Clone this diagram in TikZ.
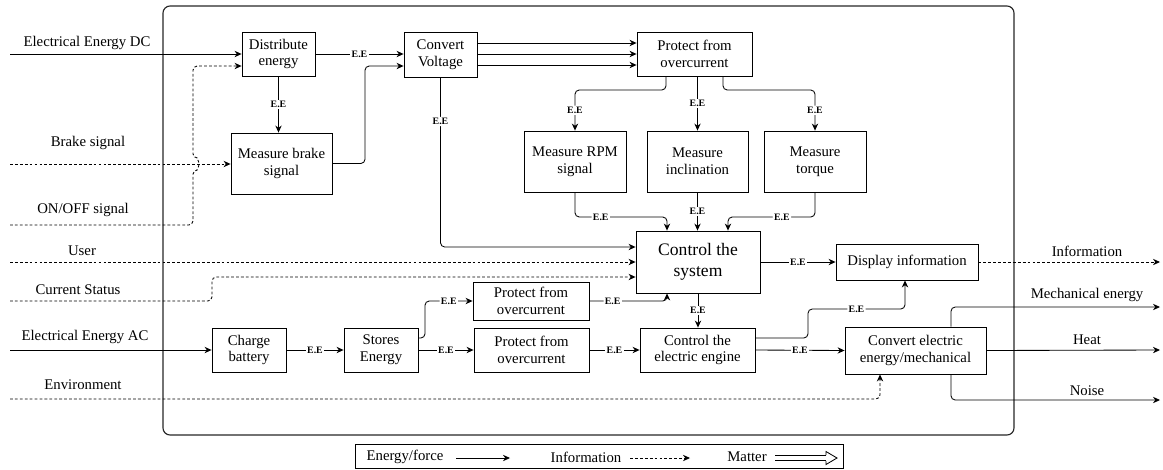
\documentclass[tikz,border=0pt]{standalone}
\usepackage{fontspec}
\setmainfont{Liberation Serif}
\usetikzlibrary{arrows.meta}
\tikzset{
  >={Stealth[length=5pt,width=4.5pt]},
  every node/.style={font=\fontsize{10.5}{12}\selectfont},
  blk/.style={draw, line width=0.6pt, align=center, inner sep=0pt},
  sz/.style 2 args={minimum width=#1*0.025cm, minimum height=#2*0.025cm},
  ee/.style={font=\fontsize{7}{8}\selectfont\bfseries, fill=white, inner sep=1pt},
  info/.style={->, dash pattern=on 2pt off 1.5pt},
}
\begin{document}
\begin{tikzpicture}[x=0.025cm, y=-0.025cm, line width=0.6pt]
  \useasboundingbox (0,0) rectangle (1163,469);
  \draw[rounded corners=5pt, line width=0.8pt, black!85] (163,6) rectangle (1014,435);

  \node[blk, sz={73}{44}] (dist) at (278.5,54) {Distribute\\energy};
  \node[blk, sz={101}{61}] (brake) at (281.5,163.5) {Measure brake\\signal};
  \node[blk, sz={73}{45}] (cv) at (440.5,54.5) {Convert\\Voltage};
  \node[blk, sz={115}{44}] (pt) at (694.5,54) {Protect from\\overcurrent};
  \node[blk, sz={102}{61}] (rpm) at (575,161.5) {Measure RPM\\signal};
  \node[blk, sz={101}{61}] (incl) at (697.5,161.5) {Measure\\inclination};
  \node[blk, sz={102}{61}] (torq) at (815,161.5) {Measure\\torque};
  \node[blk, sz={124}{62}, font=\fontsize{12.5}{15}\selectfont] (ctrl) at (698,262) {Control the\\system};
  \node[blk, sz={142}{36}] (disp) at (907,262) {Display information};
  \node[blk, sz={116}{38}] (pu) at (531,301) {Protect from\\overcurrent};
  \node[blk, sz={115}{44}] (pl) at (531.5,350) {Protect from\\overcurrent};
  \node[blk, sz={115}{44}] (eng) at (697.5,350) {Control the\\electric engine};
  \node[blk, sz={74}{44}] (chg) at (249,350) {Charge\\battery};
  \node[blk, sz={74}{44}] (sto) at (381,350) {Stores\\Energy};
  \node[blk, sz={141}{47}] (conv) at (915.5,350.5) {Convert electric\\energy/mechanical};

  \coordinate (inDC) at (10,54);
  \coordinate (inBrake) at (10,164);
  \coordinate (inOnOff) at (10,225);
  \coordinate (inUser) at (10,262);
  \coordinate (inStat) at (10,301);
  \coordinate (inAC) at (10,350);
  \coordinate (inEnv) at (10,399);
  \coordinate (outInfo) at (1160,262);
  \coordinate (outMech) at (1160,307);
  \coordinate (outHeat) at (1160,350);
  \coordinate (outNoise) at (1160,400);

  \node (lDC) at (87,43) {Electrical Energy DC};
  \node (lBrake) at (88,143) {Brake signal};
  \node (lOnOff) at (83,210) {ON/OFF signal};
  \node (lUser) at (82,251) {User};
  \node (lStat) at (78,290) {Current Status};
  \node (lAC) at (85,337) {Electrical Energy AC};
  \node (lEnv) at (83,385) {Environment};
  \node (lInfo) at (1087,251) {Information};
  \node (lMech) at (1087,295) {Mechanical energy};
  \node (lHeat) at (1087,340) {Heat};
  \node (lNoise) at (1087,391) {Noise};

  \draw[->] (inDC) -- (dist.west |- inDC);
  \draw[info] (inBrake) -- (brake.west |- inBrake);
  \draw[info, rounded corners=3pt] (inOnOff) -| (193,170) arc[start angle=-90, end angle=90, radius=0.15cm] |- (dist.west |- 0,66);
  \draw[info] (inUser) -- (ctrl.west |- inUser);
  \draw[info, rounded corners=3pt] (inStat) -| (212,277) -- (ctrl.west |- 0,277);
  \draw[->] (inAC) -- (chg.west);
  \draw[info, rounded corners=3pt] (inEnv) -| (conv.south -| 880,0);

  \draw[->] (dist.east) -- node[ee]{E.E} (cv.west |- dist.east);
  \draw[->] (dist.south) -- node[ee]{E.E} (dist.south |- brake.north);
  \draw[->, rounded corners=3pt] (brake.east) -| (365,66) -- (cv.west |- 0,66);
  \foreach \y in {43,54,65}
    \draw[->] (cv.east |- 0,\y) -- (pt.west |- 0,\y);
  \draw[->, rounded corners=3pt] (cv.south) |- node[ee, pos=0.13]{E.E} (ctrl.west |- 0,247);

  \draw[->, rounded corners=3pt] (pt.south -| 666,0) |- (rpm.north |- 0,90) -- node[ee]{E.E} (rpm.north);
  \draw[->] (pt.south -| incl.north) -- node[ee]{E.E} (incl.north);
  \draw[->, rounded corners=3pt] (pt.south -| 723,0) |- (torq.north |- 0,90) -- node[ee]{E.E} (torq.north);

  \draw[->, rounded corners=3pt] (rpm.south) |- node[ee, pos=0.64]{E.E} (667,217) -- (ctrl.north -| 667,0);
  \draw[->] (incl.south) -- node[ee]{E.E} (ctrl.north -| incl.south);
  \draw[->, rounded corners=3pt] (torq.south) |- node[ee, pos=0.69]{E.E} (728,217) -- (ctrl.north -| 728,0);

  \draw[->] (chg.east) -- node[ee]{E.E} (sto.west);
  \draw[->] (sto.east) -- node[ee]{E.E} (pl.west);
  \draw[->, rounded corners=3pt] (sto.east |- 0,338) -| (425,301) -- node[ee]{E.E} (pu.west);
  \draw[->, rounded corners=3pt] (pu.east) -| node[ee, pos=0.15]{E.E} (ctrl.south -| 667,0);
  \draw[->] (pl.east) -- node[ee]{E.E} (eng.west);
  \draw[->] (ctrl.south) -- node[ee]{E.E} (ctrl.south |- eng.north);
  \draw[->] (ctrl.east) -- node[ee]{E.E} (disp.west);
  \draw[->, rounded corners=3pt] (eng.east |- 0,338) -| (808,309) -| node[ee, pos=0.25]{E.E} (disp.south -| 905,0);
  \draw[->] (eng.east) -- node[ee]{E.E} (conv.west);

  \draw[info] (disp.east) -- (outInfo);
  \draw[->, rounded corners=3pt] (conv.north -| 951,0) |- (outMech);
  \draw[->] (conv.east) -- (outHeat);
  \draw[->, rounded corners=3pt] (conv.south -| 951,0) |- (outNoise);

  \node[blk, sz={488}{24}] (leg) at (599,456) {};
  \node (lgE) at (405,457) {Energy/force};
  \node (lgI) at (586,457) {Information};
  \node (lgM) at (747,457) {Matter};
  \draw[->] (456,458) -- (510,458);
  \draw[info] (630,458) -- (690,458);
  \draw[double, double distance=2.5pt] (775,458) -- (826,458);
  \draw[line join=miter] (826,455) -- (826,451.5) -- (837,458) -- (826,464.5) -- (826,461);
\end{tikzpicture}
\end{document}
